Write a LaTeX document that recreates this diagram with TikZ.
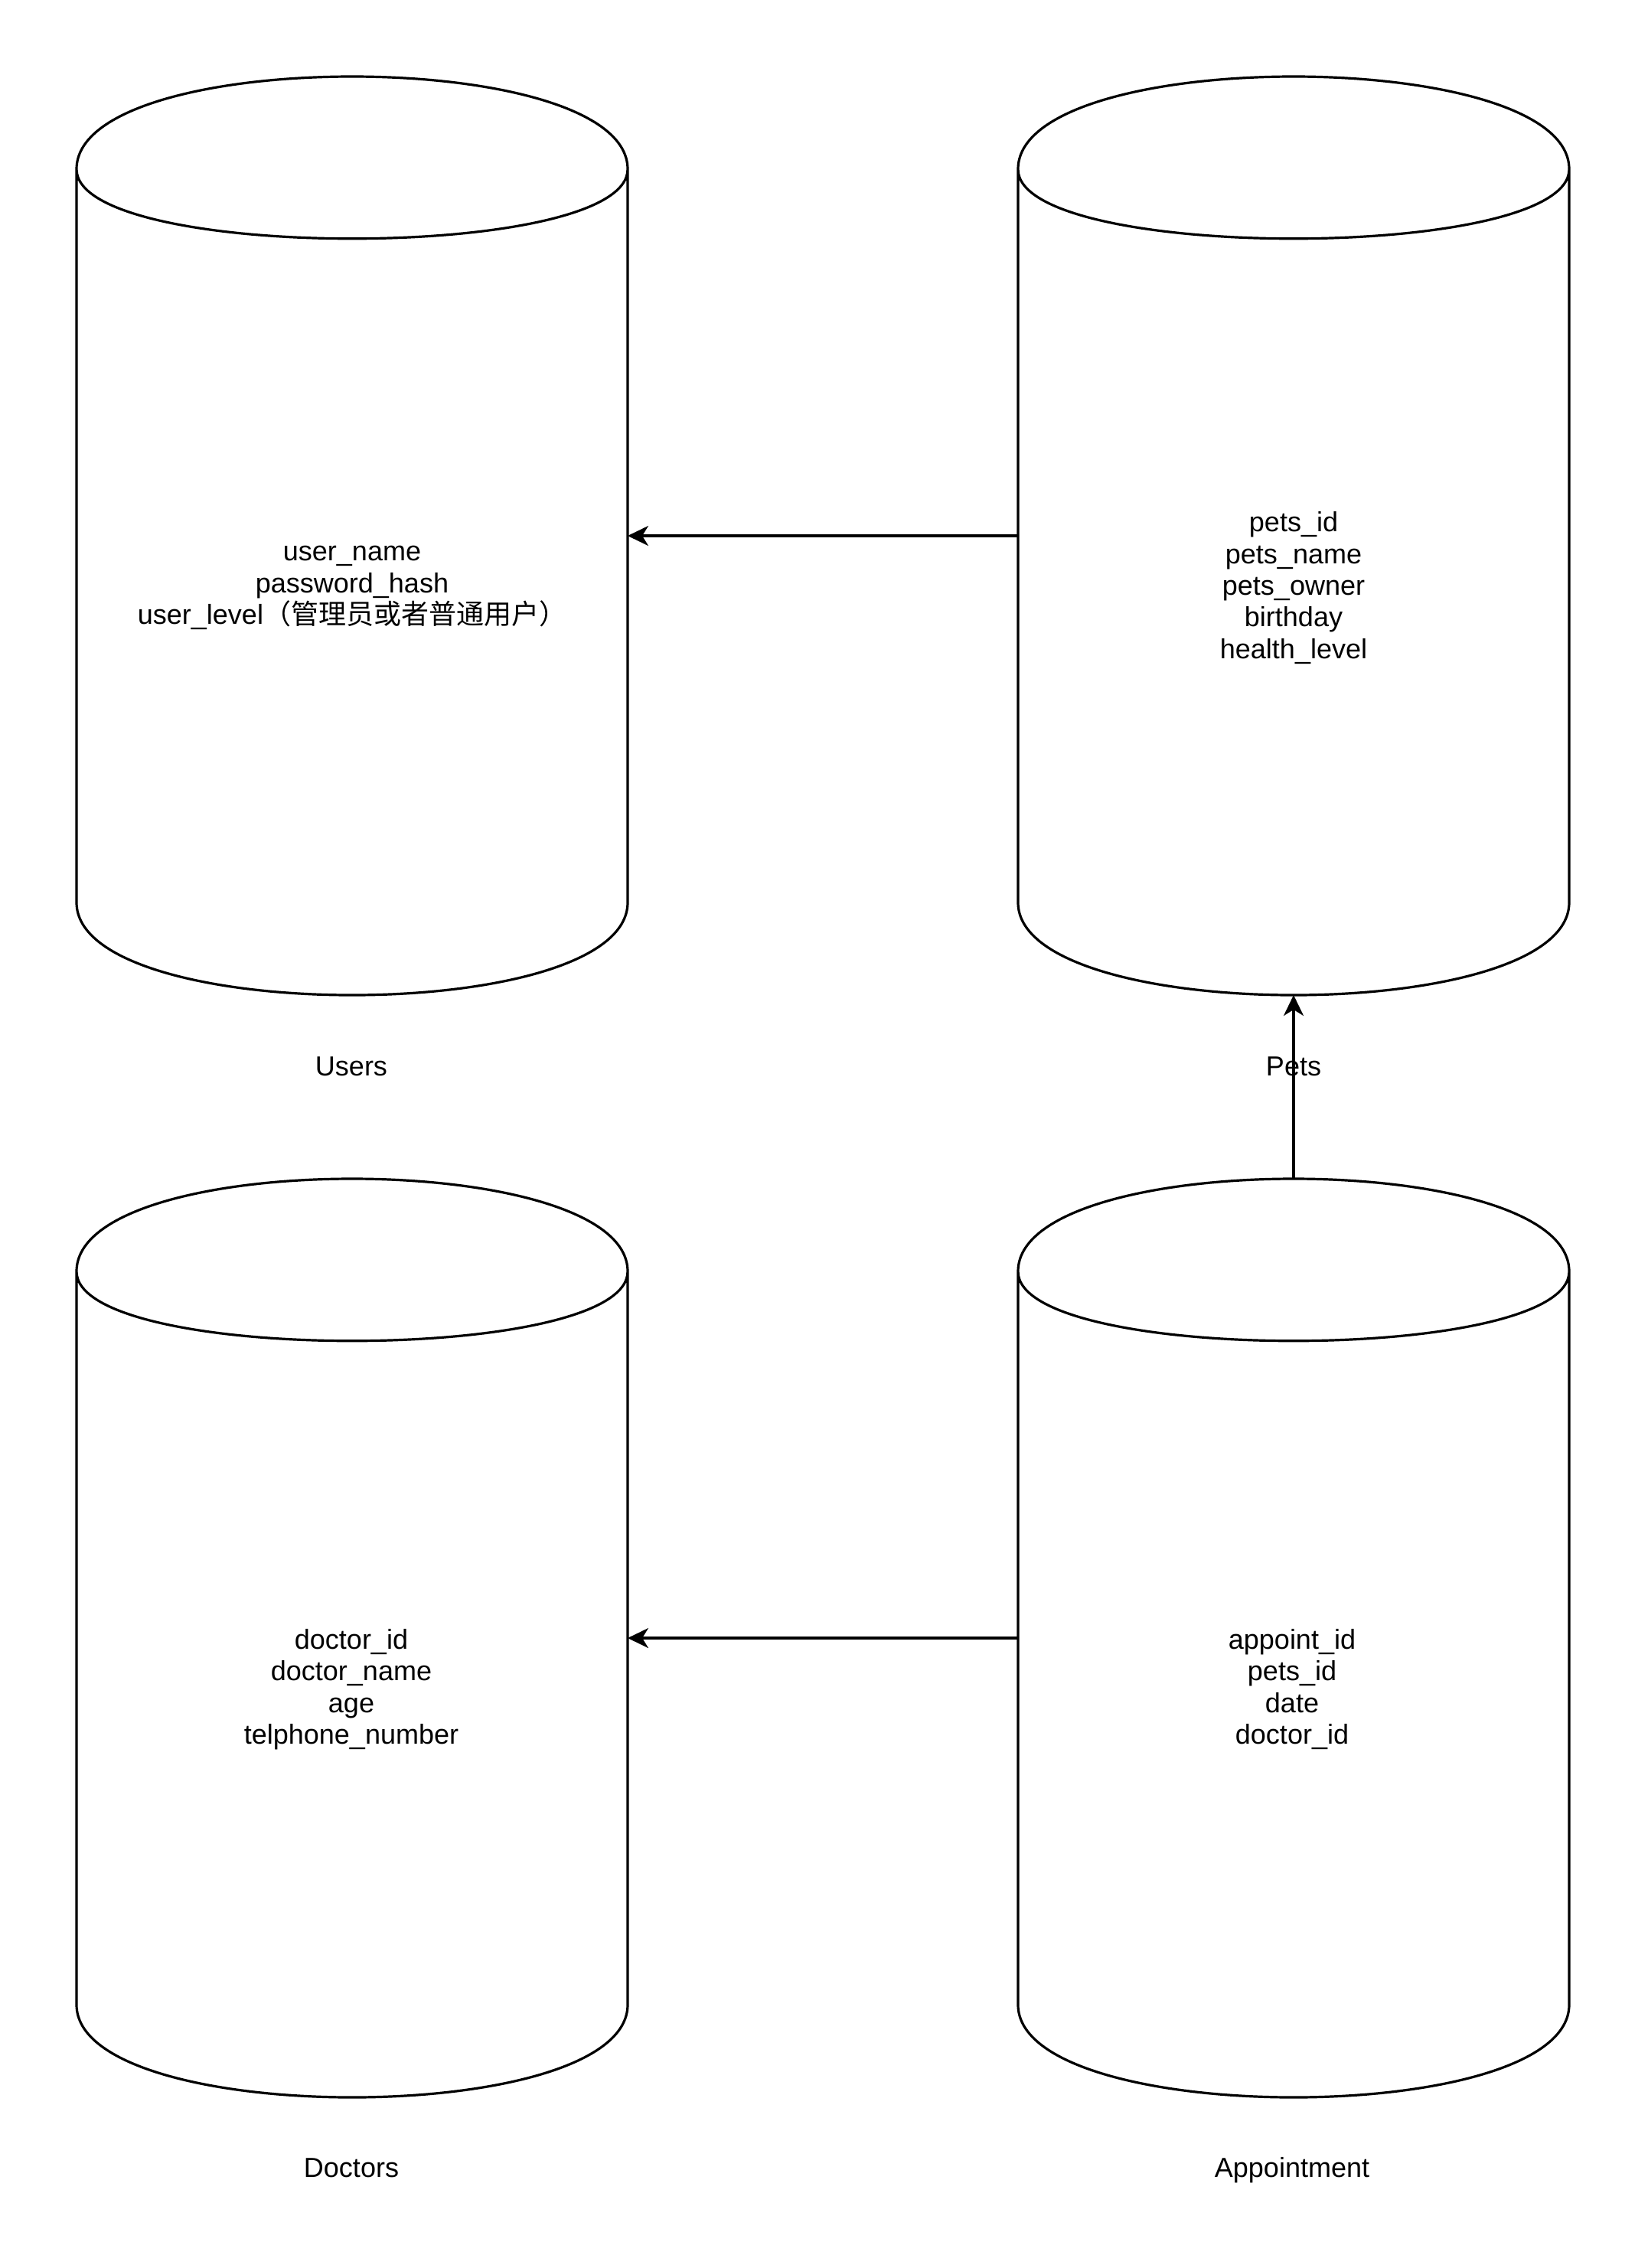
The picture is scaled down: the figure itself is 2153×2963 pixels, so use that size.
\documentclass[tikz,border=0pt]{standalone}
\usepackage{fontspec}
\setmainfont{Liberation Sans}
\newfontfamily\cjk{Noto Sans CJK SC}
\usetikzlibrary{arrows.meta}
\tikzset{
  x=0.5pt,y=0.5pt,
  cylbox/.style={draw=none,minimum width=360pt,minimum height=600pt,inner sep=0pt,outer sep=0pt},
  cylline/.style={draw=black,line width=1.6pt},
  attr/.style={align=center,font=\fontsize{18pt}{20.7pt}\selectfont,inner sep=0pt},
  captext/.style={font=\fontsize{18pt}{20.7pt}\selectfont,inner sep=0pt,anchor=base},
  link/.style={draw=black,line width=1.6pt,-{Stealth[length=13.5pt,width=13pt,inset=4pt]}}
}
\newcommand\cylshape[1]{%
  \draw[cylline]
    ([yshift=-60.5pt]#1.north west)
      .. controls ([yshift=20.17pt]#1.north west) and ([yshift=20.17pt]#1.north east) ..
    ([yshift=-60.5pt]#1.north east)
      .. controls ([yshift=-121pt]#1.north east) and ([yshift=-121pt]#1.north west) ..
    ([yshift=-60.5pt]#1.north west)
    -- ([yshift=60.5pt]#1.south west)
      .. controls ([yshift=-20.17pt]#1.south west) and ([yshift=-20.17pt]#1.south east) ..
    ([yshift=60.5pt]#1.south east)
    -- ([yshift=-60.5pt]#1.north east);
}
\begin{document}
\begin{tikzpicture}
\useasboundingbox (0,0) rectangle (2153,-2963);
% cylinder placeholders
\node[cylbox] (users) at (460,-700) {};
\node[cylbox] (pets) at (1690,-700) {};
\node[cylbox] (doctors) at (460,-2140) {};
\node[cylbox] (appt) at (1690,-2140) {};
\cylshape{users}
\cylshape{pets}
\cylshape{doctors}
\cylshape{appt}
% attribute texts
\node[attr] (userstext) at (460,-768) {user\_name\\password\_hash\\user\_level{\cjk （管理员或者普通用户）}};
\node[attr] (petstext) at (1690,-768) {pets\_id\\pets\_name\\pets\_owner\\birthday\\health\_level};
\node[attr] (doctorstext) at (459,-2207) {doctor\_id\\doctor\_name\\age\\telphone\_number};
\node[attr] (appttext) at (1688,-2207) {appoint\_id\\pets\_id\\date\\doctor\_id};
% captions
\node[captext] (userscap) at (459,-1405) {Users};
\node[captext] (petscap) at (1690,-1405) {Pets};
\node[captext] (doctorscap) at (459,-2844) {Doctors};
\node[captext] (apptcap) at (1688,-2844) {Appointment};
% connectors
\draw[link] (pets.west) -- (users.east);
\draw[link] (appt.west) -- (doctors.east);
\draw[link] (appt.north) -- (pets.south);
\end{tikzpicture}
\end{document}
